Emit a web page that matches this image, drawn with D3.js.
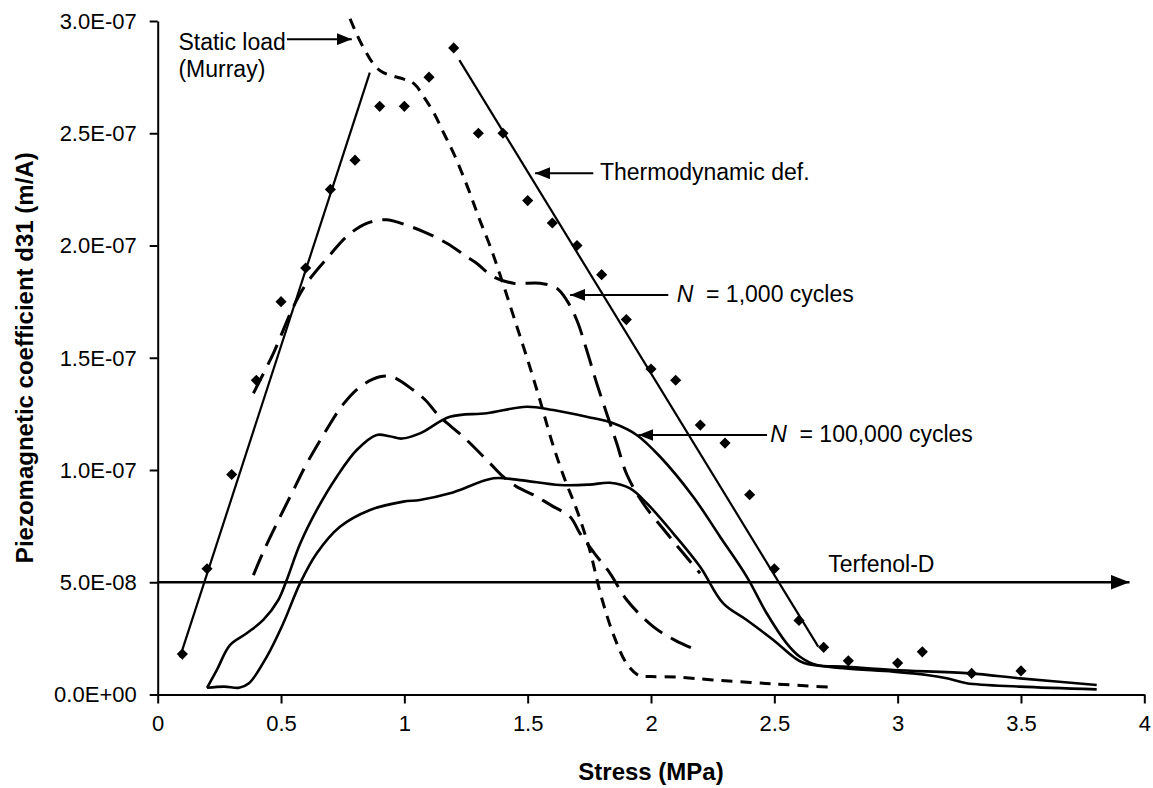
<!DOCTYPE html>
<html>
<head>
<meta charset="utf-8">
<script src="https://cdn.jsdelivr.net/npm/d3@7/dist/d3.min.js"></script>
<style>
  body { margin: 0; background: #fff; }
  text { font-family: "Liberation Sans", Arial, sans-serif; fill: #000; }
</style>
</head>
<body>
<svg id="chart" width="1153" height="788"></svg>
<script>
// d31 values are in units of 1e-7 m/A, stress in MPa
var xTicks = [0, 0.5, 1, 1.5, 2, 2.5, 3, 3.5, 4];
var yTicks = [0, 0.5, 1, 1.5, 2, 2.5, 3];

// measured points (diamonds)
var measured = [
  [0.1, 0.18], [0.2, 0.56], [0.3, 0.98], [0.4, 1.40], [0.5, 1.75], [0.6, 1.90],
  [0.7, 2.25], [0.8, 2.38], [0.9, 2.62], [1.0, 2.62], [1.1, 2.75], [1.2, 2.88],
  [1.3, 2.50], [1.4, 2.50], [1.5, 2.20], [1.6, 2.10], [1.7, 2.00], [1.8, 1.87],
  [1.9, 1.67], [2.0, 1.45], [2.1, 1.40], [2.2, 1.20], [2.3, 1.12], [2.4, 0.89],
  [2.5, 0.56], [2.6, 0.33], [2.7, 0.21], [2.8, 0.15], [3.0, 0.14], [3.1, 0.19],
  [3.3, 0.094], [3.5, 0.105]
];

// thermodynamic definition, two straight fits
var thermoRise = [[0.09, 0.165], [0.86, 2.77]];
var thermoFall = [[1.223, 2.826], [2.678, 0.213]];

// static load (Murray)
var staticLoad = [
  [0.78, 3.01], [0.83, 2.89], [0.9, 2.78], [1.0, 2.74], [1.04, 2.72], [1.08, 2.66],
  [1.12, 2.59], [1.16, 2.50], [1.2, 2.41], [1.26, 2.25], [1.3, 2.13], [1.35, 1.99],
  [1.4, 1.83], [1.45, 1.66], [1.5, 1.49], [1.55, 1.31], [1.6, 1.12], [1.65, 0.96],
  [1.7, 0.82], [1.75, 0.65], [1.8, 0.43], [1.85, 0.26], [1.9, 0.14], [1.95, 0.085],
  [2.0, 0.08], [2.1, 0.078], [2.25, 0.065], [2.5, 0.047], [2.73, 0.032]
];

// N = 1,000 cycles (long dash, upper)
var n1000 = [
  [0.388, 1.342], [0.469, 1.52], [0.55, 1.727], [0.604, 1.832], [0.7, 1.96],
  [0.766, 2.04], [0.847, 2.099], [0.93, 2.115], [0.969, 2.105], [1.077, 2.062],
  [1.172, 2.01], [1.253, 1.95], [1.293, 1.921], [1.361, 1.861], [1.442, 1.832],
  [1.55, 1.832], [1.618, 1.81], [1.658, 1.757], [1.699, 1.668], [1.739, 1.535],
  [1.78, 1.386], [1.82, 1.253], [1.861, 1.119], [1.902, 0.98], [1.968, 0.852],
  [2.064, 0.718], [2.131, 0.629], [2.199, 0.54]
];

// long dash, lower
var dashLow = [
  [0.388, 0.532], [0.43, 0.64], [0.5, 0.80], [0.55, 0.91], [0.6, 1.02], [0.685, 1.18],
  [0.75, 1.29], [0.82, 1.37], [0.9, 1.415], [0.95, 1.415], [1.036, 1.356], [1.085, 1.312],
  [1.144, 1.237], [1.239, 1.148], [1.347, 1.03], [1.401, 0.97], [1.455, 0.926],
  [1.523, 0.889], [1.604, 0.837], [1.672, 0.792], [1.712, 0.718], [1.77, 0.63],
  [1.834, 0.54], [1.902, 0.421], [2.009, 0.302], [2.1, 0.24], [2.185, 0.198]
];

// N = 100,000 cycles (solid, upper)
var n100k = [
  [0.2, 0.03], [0.24, 0.11], [0.293, 0.22], [0.361, 0.273], [0.428, 0.332],
  [0.489, 0.421], [0.523, 0.51], [0.577, 0.67], [0.645, 0.822], [0.726, 0.97],
  [0.807, 1.089], [0.888, 1.156], [0.94, 1.15], [0.99, 1.14], [1.063, 1.163],
  [1.185, 1.237], [1.334, 1.253], [1.496, 1.282], [1.604, 1.267], [1.739, 1.237],
  [1.847, 1.208], [1.942, 1.156], [2.037, 1.059], [2.171, 0.881], [2.28, 0.703],
  [2.388, 0.525], [2.469, 0.362], [2.55, 0.228], [2.604, 0.168], [2.672, 0.131],
  [2.78, 0.124], [2.982, 0.109], [3.293, 0.094], [3.496, 0.072], [3.807, 0.042]
];

// solid, lower
var solidLow = [
  [0.2, 0.03], [0.27, 0.035], [0.33, 0.03], [0.37, 0.05], [0.442, 0.168],
  [0.509, 0.317], [0.577, 0.495], [0.645, 0.629], [0.739, 0.747], [0.861, 0.822],
  [0.996, 0.859], [1.063, 0.866], [1.185, 0.896], [1.225, 0.911], [1.361, 0.963],
  [1.469, 0.955], [1.631, 0.933], [1.75, 0.935], [1.834, 0.943], [1.915, 0.918],
  [1.983, 0.852], [2.09, 0.718], [2.199, 0.569], [2.293, 0.406], [2.388, 0.332],
  [2.496, 0.243], [2.577, 0.168], [2.62, 0.14], [2.78, 0.117], [2.982, 0.102],
  [3.118, 0.087], [3.199, 0.072], [3.28, 0.05], [3.496, 0.035], [3.807, 0.023]
];

// Terfenol-D reference level
var terfenol = [[0, 0.5], [3.94, 0.5]];

var WIDTH = 1153;
var HEIGHT = 788;

var svg = d3.select('#chart');

var x = d3.scaleLinear().domain([0, 4]).range([157.7, 1144.3]);
var y = d3.scaleLinear().domain([0, 3]).range([694.5, 21]);

function sciFormat (v) {
  var val = v * 1e-7;
  if (val === 0) return '0.0E+00';
  var exp = Math.floor(Math.log10(Math.abs(val)) + 1e-9);
  var mant = val / Math.pow(10, exp);
  var sign = exp < 0 ? '-' : '+';
  var e = Math.abs(exp);
  return mant.toFixed(1) + 'E' + sign + (e < 10 ? '0' + e : e);
}

// arrow markers
var defs = svg.append('defs');
defs.append('marker')
  .attr('id', 'arrow-small')
  .attr('viewBox', '0 -6 15 12')
  .attr('refX', 15)
  .attr('markerWidth', 15)
  .attr('markerHeight', 12)
  .attr('markerUnits', 'userSpaceOnUse')
  .attr('orient', 'auto')
  .append('path')
  .attr('d', 'M0,-6L15,0L0,6Z');
defs.append('marker')
  .attr('id', 'arrow-big')
  .attr('viewBox', '0 -7.5 19 15')
  .attr('refX', 19)
  .attr('markerWidth', 19)
  .attr('markerHeight', 15)
  .attr('markerUnits', 'userSpaceOnUse')
  .attr('orient', 'auto')
  .append('path')
  .attr('d', 'M0,-7.5L19,0L0,7.5Z');

// axes
var xAxis = d3.axisBottom(x).tickValues(xTicks).tickSize(9).tickSizeOuter(0)
  .tickFormat(d3.format('~g'));
var yAxis = d3.axisLeft(y).tickValues(yTicks).tickSize(8).tickSizeOuter(0)
  .tickFormat(sciFormat);

var gx = svg.append('g').attr('transform', 'translate(0,' + y(0) + ')').call(xAxis);
var gy = svg.append('g').attr('transform', 'translate(' + x(0) + ',0)').call(yAxis);

[gx, gy].forEach(function (g) {
  g.selectAll('path.domain').attr('stroke', '#000').attr('stroke-width', 2);
  g.selectAll('.tick line').attr('stroke', '#000').attr('stroke-width', 2);
  g.selectAll('.tick text')
    .attr('font-family', '"Liberation Sans", Arial, sans-serif')
    .attr('font-size', 22)
    .attr('fill', '#000');
});
gx.selectAll('.tick text').attr('y', 21).attr('dy', '0.71em');
gy.selectAll('.tick text').attr('x', -21).attr('dy', '0.33em');

svg.append('text')
  .attr('x', (x(0) + x(4)) / 2)
  .attr('y', 780)
  .attr('text-anchor', 'middle')
  .attr('font-size', 24)
  .attr('font-weight', 'bold')
  .text('Stress (MPa)');

svg.append('text')
  .attr('transform', 'translate(33,' + (y(0) + y(3)) / 2 + ') rotate(-90)')
  .attr('text-anchor', 'middle')
  .attr('font-size', 24)
  .attr('font-weight', 'bold')
  .text('Piezomagnetic coefficient d31 (m/A)');

var line = d3.line()
  .x(function (d) { return x(d[0]); })
  .y(function (d) { return y(d[1]); });
var smooth = d3.line()
  .x(function (d) { return x(d[0]); })
  .y(function (d) { return y(d[1]); })
  .curve(d3.curveCatmullRom.alpha(0.5));

// Terfenol-D level
svg.append('path')
  .attr('d', line(terfenol))
  .attr('fill', 'none')
  .attr('stroke', '#000')
  .attr('stroke-width', 2.5)
  .attr('marker-end', 'url(#arrow-big)');

var series = [
  { data: thermoRise, gen: line, width: 2.2, dash: null },
  { data: thermoFall, gen: line, width: 2.2, dash: null },
  { data: staticLoad, gen: smooth, width: 3, dash: '11,8' },
  { data: n1000, gen: smooth, width: 3, dash: '22,10' },
  { data: dashLow, gen: smooth, width: 3, dash: '22,10' },
  { data: n100k, gen: smooth, width: 2.6, dash: null },
  { data: solidLow, gen: smooth, width: 2.6, dash: null }
];

svg.selectAll('.series')
  .data(series)
  .enter().append('path')
  .attr('class', 'series')
  .attr('d', function (s) { return s.gen(s.data); })
  .attr('fill', 'none')
  .attr('stroke', '#000')
  .attr('stroke-width', function (s) { return s.width; })
  .attr('stroke-dasharray', function (s) { return s.dash; })
  .attr('stroke-linecap', 'butt');

svg.selectAll('.pt')
  .data(measured)
  .enter().append('path')
  .attr('class', 'pt')
  .attr('d', d3.symbol(d3.symbolSquare, 62)())
  .attr('transform', function (d) {
    return 'translate(' + x(d[0]) + ',' + y(d[1]) + ') rotate(45)';
  })
  .attr('fill', '#000');

// annotations: arrow from tail to tip, label position
var annotations = [
  { tail: [1.766, 2.322], tip: [1.53, 2.322], label: [1.793, 2.29], lines: ['Thermodynamic def.'] },
  { tail: [2.07, 1.78], tip: [1.672, 1.78], label: [2.104, 1.75], n: ' = 1,000 cycles' },
  { tail: [2.47, 1.156], tip: [1.949, 1.156], label: [2.483, 1.126], n: ' = 100,000 cycles' },
  { tail: [0.524, 2.919], tip: [0.787, 2.919], label: [0.084, 2.871], lines: ['Static load', '(Murray)'] }
];

annotations.forEach(function (a) {
  svg.append('path')
    .attr('d', line([a.tail, a.tip]))
    .attr('stroke', '#000')
    .attr('stroke-width', 2)
    .attr('marker-end', 'url(#arrow-small)');
  var t = svg.append('text')
    .attr('x', x(a.label[0]))
    .attr('y', y(a.label[1]))
    .attr('font-size', 23)
    .style('white-space', 'pre');
  if (a.n) {
    t.append('tspan').attr('font-style', 'italic').text('N');
    t.append('tspan').text(' ' + a.n);
  } else {
    a.lines.forEach(function (l, i) {
      t.append('tspan').attr('x', x(a.label[0])).attr('dy', i === 0 ? 0 : 27).text(l);
    });
  }
});

svg.append('text')
  .attr('x', x(2.719))
  .attr('y', y(0.547))
  .attr('font-size', 23)
  .text('Terfenol-D');
</script>
</body>
</html>
